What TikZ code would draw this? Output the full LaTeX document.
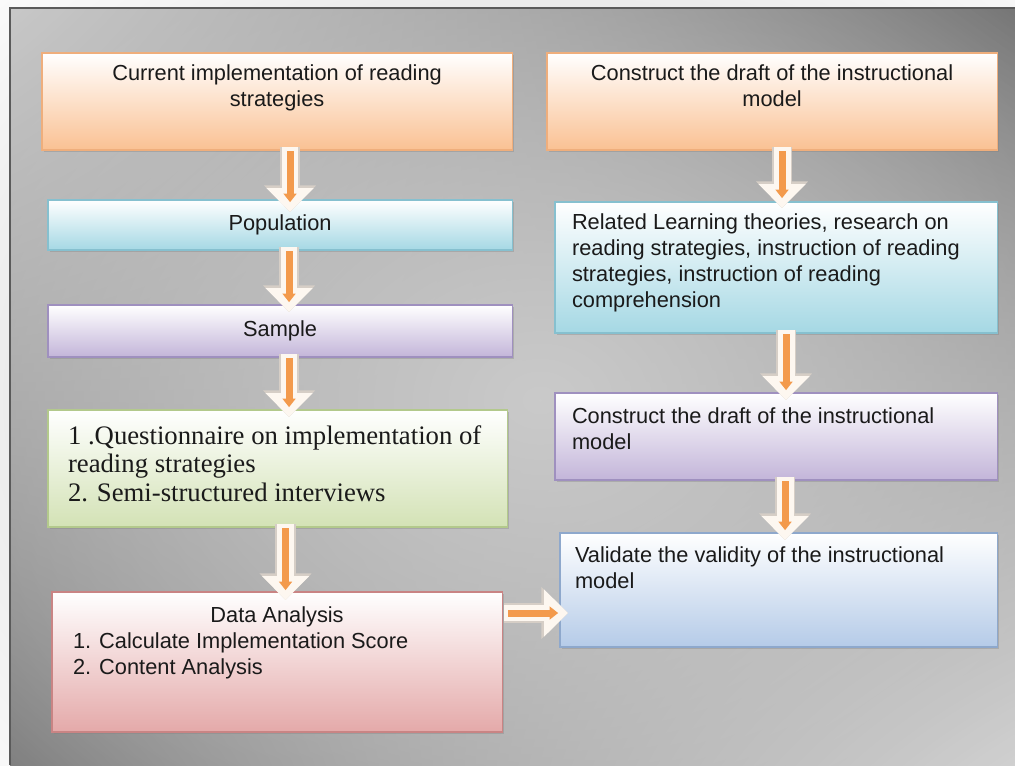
\documentclass[tikz,border=0pt]{standalone}
\usepackage{fontspec}
\setmainfont{Liberation Sans}
\newfontfamily\romanfont{Liberation Serif}
\usetikzlibrary{positioning,calc,shadows,shadings,arrows.meta,fadings}

\definecolor{inkgray}{HTML}{1A1A1A}
\definecolor{framegray}{HTML}{5A5A5A}
\definecolor{bgtl}{HTML}{C8C8C8}
\definecolor{bgtr}{HTML}{666666}
\definecolor{bgbl}{HTML}{747474}
\definecolor{bgbr}{HTML}{D2D2D2}
\definecolor{bglight}{HTML}{CACACA}
\definecolor{orangelow}{HTML}{FAC193}
\definecolor{orangeedge}{HTML}{EFAE7C}
\definecolor{cyanlow}{HTML}{A5D8E4}
\definecolor{cyanedge}{HTML}{86C0CF}
\definecolor{lilaclow}{HTML}{C3B5D9}
\definecolor{lilacedge}{HTML}{9F90BF}
\definecolor{greenlow}{HTML}{D3E2B5}
\definecolor{greenedge}{HTML}{B3C98C}
\definecolor{pinklow}{HTML}{E4A9A9}
\definecolor{pinkedge}{HTML}{C98484}
\definecolor{bluelow}{HTML}{B5CBE8}
\definecolor{blueedge}{HTML}{8EA8CC}
\definecolor{rimgray}{HTML}{D6CEC6}
\definecolor{creamwhite}{HTML}{FDF7F0}
\definecolor{flowor}{HTML}{F39A4C}

\tikzfading[name=glowfade,inner color=transparent!0,outer color=transparent!100]

% one block arrow = rim, body and orange core
\newcommand{\flowarrow}[2]{%
  \draw[arrowrim] #1 -- #2;
  \draw[arrowbody] #1 -- #2;
  \draw[arrowcore] #1 -- #2;}

\begin{document}
\begin{tikzpicture}[x=0.025cm,y=-0.025cm,inner sep=0pt,outer sep=0pt,
stage/.style={draw,rectangle,anchor=north west,inner xsep=0.425cm,inner ysep=0pt,line width=0.8pt,
  text=inkgray,font=\fontsize{15.5}{18.5}\selectfont,
  drop shadow={opacity=0.35,shadow xshift=1.2pt,shadow yshift=-1.2pt}},
arrowrim/.style={draw=rimgray,line width=14.5pt,-{Triangle[width=36pt,length=19pt]}},
arrowbody/.style={draw=creamwhite,line width=12pt,-{Triangle[width=32.5pt,length=17pt]}},
arrowcore/.style={draw=flowor,line width=5pt,-{Triangle[width=9pt,length=6pt]},shorten >=7pt,shorten <=3pt}]

\useasboundingbox (0,0) rectangle (1015,765);

% background panel
\shade[upper left=bgtl,upper right=bgtr,lower left=bgbl,lower right=bgbr] (10,8) rectangle (1015,765);
\fill[bglight,path fading=glowfade] (540,400) ellipse [x radius=820,y radius=640];
\draw[framegray,line width=1.5pt] (10,765) -- (10,8) -- (1015,8);

% left column
\node[stage,top color=white,bottom color=orangelow,draw=orangeedge] (cur) at (42,53)
  {\begin{minipage}[c][2.425cm][t]{10.9cm}\vspace{0.28cm}\centering Current implementation of reading\\ strategies\end{minipage}};
\node[stage,top color=white,bottom color=cyanlow,draw=cyanedge] (pop) at (48,200)
  {\begin{minipage}[c][1.25cm][c]{10.75cm}\centering Population\end{minipage}};
\node[stage,top color=white,bottom color=lilaclow,draw=lilacedge] (smp) at (48,305)
  {\begin{minipage}[c][1.3cm][c]{10.75cm}\centering Sample\end{minipage}};
\node[stage,top color=white,bottom color=greenlow,draw=greenedge,inner xsep=0.5cm] (qst) at (48,410)
  {\begin{minipage}[c][2.925cm][t]{10.475cm}\romanfont\fontsize{19}{20}\selectfont\vspace{0.4cm}1 .Questionnaire on implementation of\\ reading strategies\\ 2. Semi-structured interviews\end{minipage}};
\node[stage,top color=white,bottom color=pinklow,draw=pinkedge,inner xsep=0.525cm] (dat) at (52,592)
  {\begin{minipage}[c][3.5cm][t]{10.2cm}\vspace{0.36cm}{\centering Data Analysis\par}1. Calculate Implementation Score\\ 2. Content Analysis\end{minipage}};

% right column
\node[stage,top color=white,bottom color=orangelow,draw=orangeedge] (cdm) at (547,53)
  {\begin{minipage}[c][2.425cm][t]{10.4cm}\vspace{0.28cm}\centering Construct the draft of the instructional\\ model\end{minipage}};
\node[stage,top color=white,bottom color=cyanlow,draw=cyanedge] (rel) at (555,202)
  {\begin{minipage}[c][3.275cm][t]{10.2cm}\vspace{0.3cm}Related Learning theories, research on\\ reading strategies, instruction of reading\\ strategies, instruction of reading\\ comprehension\end{minipage}};
\node[stage,top color=white,bottom color=lilaclow,draw=lilacedge] (cdr) at (555,393)
  {\begin{minipage}[c][2.175cm][t]{10.2cm}\vspace{0.37cm}Construct the draft of the instructional\\ model\end{minipage}};
\node[stage,top color=white,bottom color=bluelow,draw=blueedge,inner xsep=0.375cm] (val) at (560,533)
  {\begin{minipage}[c][2.85cm][t]{10.175cm}\vspace{0.33cm}Validate the validity of the instructional\\ model\end{minipage}};

% block arrows
\flowarrow{($(cur.south)+(13,-3)$)}{($(cur.south |- pop.north)+(13,12)$)}
\flowarrow{($(pop.south)+(9,-3)$)}{($(pop.south |- smp.north)+(9,7)$)}
\flowarrow{($(smp.south)+(9,-3)$)}{($(smp.south |- qst.north)+(9,7)$)}
\flowarrow{($(qst.south)+(8,-3)$)}{($(qst.south |- dat.north)+(8,8)$)}
\flowarrow{($(cdm.south)+(10,-3)$)}{($(cdm.south |- rel.north)+(10,6)$)}
\flowarrow{($(rel.south)+(10,-3)$)}{($(rel.south |- cdr.north)+(10,7)$)}
\flowarrow{($(cdr.south)+(9,-3)$)}{($(cdr.south |- val.north)+(9,7)$)}
\flowarrow{($(dat.east)+(2,-49)$)}{($(dat.east -| val.west)+(8,-49)$)}
\end{tikzpicture}
\end{document}
